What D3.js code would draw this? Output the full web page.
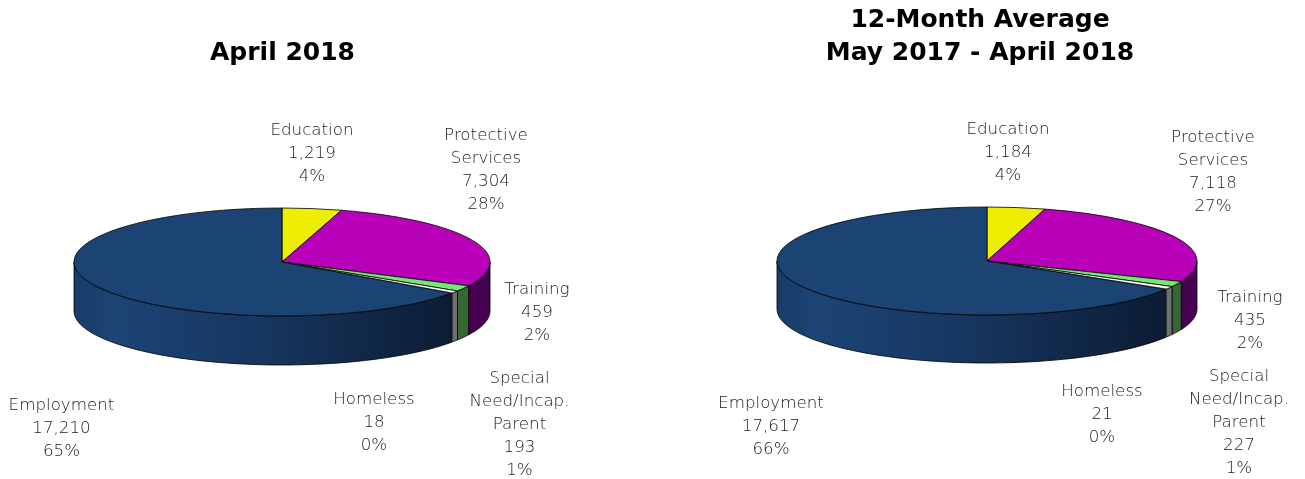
<!DOCTYPE html>
<html>
<head>
<meta charset="utf-8">
<script src="https://cdn.jsdelivr.net/npm/d3@7"></script>
<style>
html, body { margin: 0; padding: 0; background: #fff; }
svg { display: block; will-change: transform; }
text { font-family: "DejaVu Sans", sans-serif; text-anchor: middle; }
.title { font-size: 25px; font-weight: bold; fill: #000; }
.label { font-size: 16.7px; font-weight: 200; fill: #1c1c1c; }
</style>
</head>
<body>
<svg id="chart" width="1305" height="479"></svg>
<script>
// values, clockwise from 12 o'clock
const categories = ["Education", "Protective Services", "Training", "Special Need/Incap. Parent", "Homeless", "Employment"];
const april2018 = [1219, 7304, 459, 193, 18, 17210];
const average12 = [1184, 7118, 435, 227, 21, 17617];
const aprilPct = ["4%", "28%", "2%", "1%", "0%", "65%"];
const averagePct = ["4%", "27%", "2%", "1%", "0%", "66%"];

// how the category names break over lines
const labelLines = [["Education"], ["Protective", "Services"], ["Training"], ["Special", "Need/Incap.", "Parent"], ["Homeless"], ["Employment"]];

const topColors = ["#eeee00", "#b800b8", "#74e874", "#ffffff", "#ffffff", "#1b4373"];
const sideColors = ["#777700", "#45004f", "#366633", "#707070", "#707070", null];

const svg = d3.select("#chart");
const fmt = d3.format(",");

// the employment side goes darker to the right, same as the original
function addGradient(id, x0, x1) {
    const g = svg.append("defs").append("linearGradient")
        .attr("id", id)
        .attr("gradientUnits", "userSpaceOnUse")
        .attr("x1", x0).attr("x2", x1).attr("y1", 0).attr("y2", 0);
    g.append("stop").attr("offset", 0).attr("stop-color", "#193c68");
    g.append("stop").attr("offset", 0.1).attr("stop-color", "#1c4475");
    g.append("stop").attr("offset", 0.45).attr("stop-color", "#173660");
    g.append("stop").attr("offset", 0.9).attr("stop-color", "#0c1d35");
    g.append("stop").attr("offset", 1).attr("stop-color", "#0b1b32");
}

function drawPie(cfg) {
    const { cx, cy, rx, ry, depth, values, pct, titleLines, titleX, titleY, labels } = cfg;

    const slices = d3.pie().sort(null)(values);
    const gradId = "side" + cx;
    addGradient(gradId, cx - rx, cx + rx);

    const px = a => cx + rx * Math.sin(a);
    const py = a => cy - ry * Math.cos(a);

    const side = d3.area()
        .x(a => px(a))
        .y0(a => py(a))
        .y1(a => py(a) + depth);

    // only the front half of the rim shows
    const front = [Math.PI / 2, Math.PI * 1.5];
    slices.forEach((s, i) => {
        const a0 = Math.max(s.startAngle, front[0]);
        const a1 = Math.min(s.endAngle, front[1]);
        if (a1 <= a0) return;
        svg.append("path")
            .attr("d", side(d3.range(0, 61).map(k => a0 + (a1 - a0) * k / 60)) + "")
            .attr("fill", sideColors[i] || `url(#${gradId})`)
            .attr("stroke", i === 4 ? "none" : "#000") // homeless is too thin for an outline
            .attr("stroke-width", 0.8);
    });

    // top face: a d3 arc squashed into an ellipse
    const arc = d3.arc().innerRadius(0).outerRadius(rx);
    const top = svg.append("g").attr("transform", `translate(${cx},${cy}) scale(1,${ry / rx})`);
    top.selectAll("path")
        .data(slices)
        .enter()
        .append("path")
        .attr("d", arc)
        .attr("fill", (d, i) => topColors[i])
        .attr("stroke", (d, i) => i === 4 ? "none" : "#000")
        .attr("stroke-width", 0.8)
        .attr("vector-effect", "non-scaling-stroke");

    titleLines.forEach((t, i) => {
        svg.append("text").attr("class", "title")
            .attr("x", titleX).attr("y", titleY + i * 33).text(t);
    });

    categories.forEach((c, i) => {
        const lines = labelLines[i].concat([fmt(values[i]), pct[i]]);
        lines.forEach((t, k) => {
            svg.append("text").attr("class", "label")
                .attr("x", labels[i][0]).attr("y", labels[i][1] + k * 23).text(t);
        });
    });
}

drawPie({
    cx: 282, cy: 262, rx: 208, ry: 54, depth: 49,
    values: april2018, pct: aprilPct,
    titleLines: ["April 2018"], titleX: 282.5, titleY: 60,
    labels: [[312, 135], [486, 140], [537, 294], [519.5, 383], [374, 404], [61.5, 410]]
});

drawPie({
    cx: 987, cy: 261, rx: 210, ry: 54, depth: 48,
    values: average12, pct: averagePct,
    titleLines: ["12-Month Average", "May 2017 - April 2018"], titleX: 980, titleY: 27,
    labels: [[1008, 134], [1213, 142], [1250, 302], [1239, 381], [1102, 396], [771, 408]]
});
</script>
</body>
</html>
